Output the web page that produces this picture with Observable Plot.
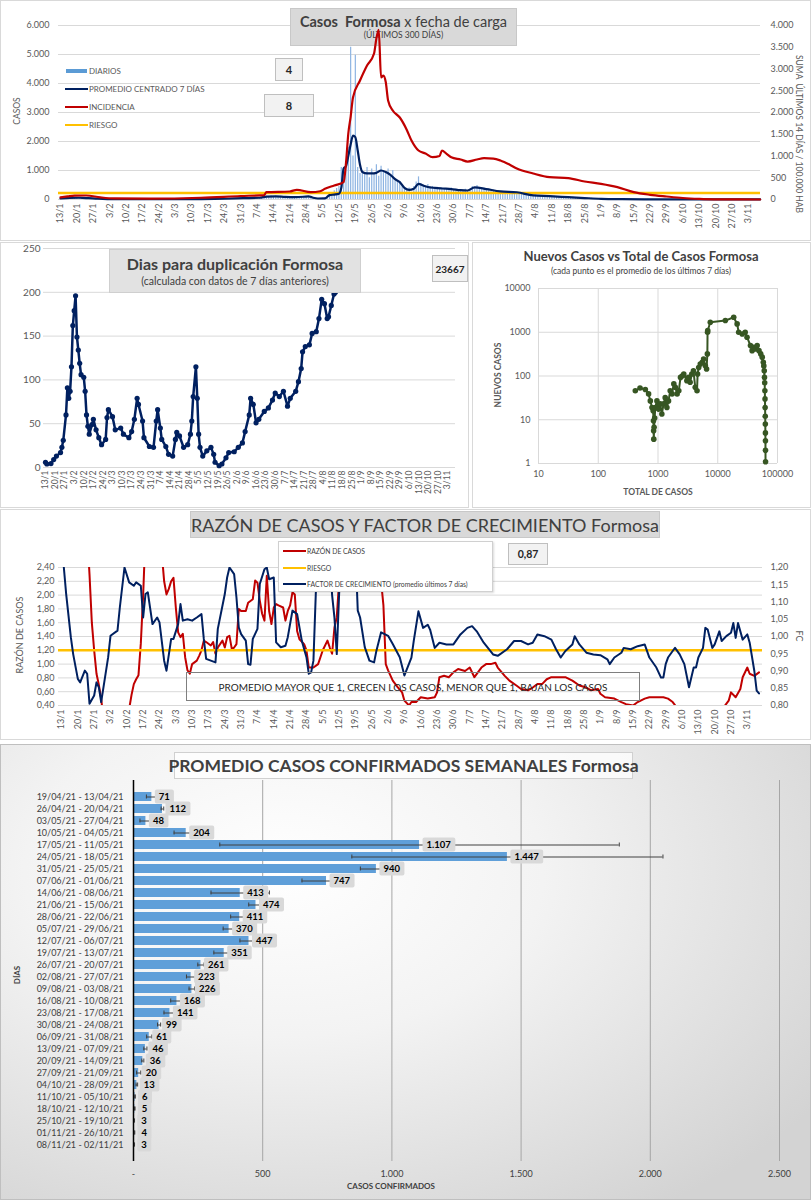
<!DOCTYPE html>
<html lang="es">
<head>
<meta charset="utf-8">
<script src="https://cdn.jsdelivr.net/npm/d3@7"></script>
<script src="https://cdn.jsdelivr.net/npm/@observablehq/plot@0.6"></script>
<style>
  html,body{margin:0;padding:0;background:#fff;}
  body{position:relative;width:811px;height:1200px;overflow:hidden;font-family:Lato,"Open Sans",sans-serif;color:#404040;}
  .panel{position:absolute;background:#fff;outline:1px solid #d9d9d9;outline-offset:-1px;}
  .layer{position:absolute;}
  .layer svg{display:block;overflow:visible;}
  .box{position:absolute;box-sizing:border-box;display:flex;flex-direction:column;align-items:center;justify-content:center;white-space:nowrap;}
  .t{position:absolute;white-space:nowrap;transform:translateY(-50%);line-height:1;}
  .c{position:absolute;white-space:nowrap;transform:translate(-50%,-50%);line-height:1;}
  .rot{position:absolute;white-space:nowrap;transform:translate(-50%,-50%) rotate(-90deg);line-height:1;}
  .rot90{position:absolute;white-space:nowrap;transform:translate(-50%,-50%) rotate(90deg);line-height:1;}
  .sw{position:absolute;}
</style>
</head>
<body>
<script>
// ---------------- DATA ----------------
// Día 0 = 13/1/2021
const fechaInicio = [2021, 0, 13];
const ticksSemana = d3.range(0, 295, 7);

// Panel 1: casos diarios (día 0 .. 299)
const diarios = [
  25,40,35,55,60,50,65,55,70,60,
  50,45,55,40,35,30,25,20,20,15,
  15,12,10,14,8,12,10,9,11,8,
  10,12,8,9,11,10,7,12,9,10,
  11,9,10,13,8,12,10,11,14,12,
  13,10,12,15,11,14,12,16,13,15,
  14,17,15,18,16,20,22,19,25,24,
  26,23,28,30,27,35,38,42,45,48,
  50,55,52,58,62,60,70,85,110,105,
  120,100,115,95,110,90,85,80,95,75,
  80,90,95,100,110,105,70,60,55,40,
  30,35,45,60,120,180,220,300,380,450,
  1100,1000,1200,1800,5250,1500,4970,1100,900,1000,
  850,1100,750,1050,900,1200,800,1150,1000,950,
  1050,850,1000,700,650,600,500,350,300,400,
  250,450,600,780,550,500,450,520,400,450,
  350,420,380,400,350,380,340,400,330,350,
  300,320,280,350,300,330,450,400,480,380,
  350,400,330,350,300,320,280,300,260,280,
  240,260,230,270,220,250,200,220,180,200,
  160,150,140,150,120,130,110,125,100,115,
  95,110,90,100,85,90,80,85,70,75,
  65,70,55,60,50,55,45,40,35,38,
  30,25,28,22,20,18,15,16,12,14,
  10,9,8,10,7,6,8,5,6,5,
  4,5,3,4,3,4,2,3,3,2,
  2,3,2,1,2,2,1,2,1,1,
  1,2,1,1,0,1,1,0,1,1,
  0,1,1,0,1,0,1,1,0,1,
  0,1,0,1,1,0,1,0,0,1
];
// Promedio centrado 7 días
const promDia = [0,4,8,12,16,20,30,40,50,60,70,78,85,88,92,96,100,104,106,108,110,113,115,117,119,120,121,122,123,124,125,126,127,128,129,131,133,135,137,139,141,143,145,147,149,151,153,155,157,160,163,167,171,174,177,182,188,195,202,209,217,224,231,240,250,260,270,280,290,299];
const promValor = [35,55,60,45,25,15,10,10,12,15,25,45,60,100,110,90,80,95,110,60,35,40,150,170,200,400,1070,1150,1500,1900,2200,2150,1700,1200,950,900,900,920,1000,950,850,700,600,400,330,370,540,480,430,400,380,360,320,310,420,360,280,250,140,115,80,50,23,10,5,3,2,1,1,1];
// Incidencia: suma últimos 14 días / 100.000 hab (eje derecho)
const incDia = [0,3,6,11,17,23,38,60,77,87,88,98,101,107,111,113,117,121,122,123,124,125,128,131,134,135,136,137,138,139,140,142,145,148,150,153,156,159,162,163,165,167,171,174,178,181,185,188,192,195,202,209,217,224,231,238,245,252,259,266,273,282,290,299];
const incValor = [50,70,90,92,50,25,20,40,80,100,168,184,223,170,190,245,322,400,830,1517,1900,2345,2736,3080,3356,3700,3900,2805,2850,2700,2276,2046,1885,1600,1356,1126,1057,972,1000,1126,1050,972,920,873,920,950,940,897,800,713,598,513,490,414,360,283,168,108,69,35,16,5,2,0];
const riesgoIncidencia = 150;
const ejeIzqMax = 6000, ejeDerMax = 4000;
const ticksIzq1 = d3.range(0, 6001, 1000);
const ticksDer1 = d3.range(0, 4001, 500);

// Panel 2: días para duplicación
const dupDia = [0,1,4,6,8,11,12,13,15,16,17,18,19,20,21,22,23,24,25,26,28,29,30,31,32,34,35,37,39,41,44,45,46,49,51,55,57,61,63,65,67,68,71,72,76,79,81,82,84,85,88,90,93,95,96,98,101,104,106,107,108,110,111,112,113,115,118,121,123,124,127,129,132,134,138,141,144,146,149,150,152,154,156,160,163,166,168,171,174,177,179,183,185,187,188,190,193,195,198,200,202,204,206,207,209,211,212];
const dupValor = [6,4,4.5,9,13,17,23,31,60,91,79,87,115,162,179,196,149,134,119,106,103,87,60,47,38,49,55,43,34,26,32,57,66,58,43,45,38,34,41,55,79,72,53,34,24,23,53,66,45,32,24,15,13,32,40,36,23,26,38,53,81,115,79,38,23,13,19,23,15,6,2,4,11,17,18,23,28,41,60,79,72,51,55,64,68,77,85,81,87,70,79,87,98,113,132,138,140,153,155,170,192,187,170,172,185,198,200];
const ticksDup = d3.range(0, 251, 50);
const duplicacionActual = "23667";

// Panel 3: nuevos casos vs total
const totalCasos = [417,500,614,696,744,794,830,840,845,850,860,880,900,960,1020,1090,1160,1240,1320,1410,1500,1600,1720,1840,1950,2090,2230,2380,2540,2700,3040,3240,3450,3680,3920,4200,4500,4600,4800,5100,5500,5800,6200,6500,6700,6750,6800,7500,13400,18500,21100,22400,25700,28800,30900,35300,37600,40000,42500,45700,49000,52500,55500,57900,59000,60000,60500,61000,61400,61700,62000,62300,62500,62700,62850,62950,63050];
const nuevosCasos = [46,53,49,39,27,19,16,9.5,5.6,3.6,6.7,11,19,27,17.5,23,13.5,23,32,19,27,46,39,66,55,39,46,93,100,111,78,93,72,111,132,55,46,111,157,188,205,245,172,145,320,1000,1100,1690,1850,2200,1550,1000,910,1000,770,495,380,450,415,495,380,320,270,205,170,132,93,70,46,30,19,12,8,5,3.3,2,1.1];
const ticksLogX = [10,100,1000,10000,100000];
const ticksLogY = [1,10,100,1000,10000];

// Panel 4: razón de casos y factor de crecimiento
const razDia = [0,11,12,13,14,15,16,17,18,28,29,30,31,32,33,34,35,36,42,43,44,45,46,47,48,49,50,51,52,53,54,55,56,58,59,60,61,62,64,65,66,67,69,70,71,72,73,74,75,76,77,79,80,82,83,84,85,86,87,88,89,90,91,92,93,95,96,97,98,99,100,101,102,104,105,106,108,110,112,114,115,116,117,118,119,120,136,137,138,139,140,142,144,146,147,149,150,152,154,157,160,161,162,164,166,168,170,173,175,177,180,182,184,186,187,190,192,195,197,200,202,204,206,208,210,213,216,219,222,225,227,230,231,233,237,240,242,245,247,250,252,255,258,260,262,264,265,282,284,286,287,289,291,292,294,295,297,299];
const razValor = [3.5,2.9,2.3,1.6,1.2,0.86,0.7,0.5,0.2,0.2,0.35,0.55,0.71,0.78,0.84,1.3,2.0,2.9,3.0,2.6,2.2,2.01,2.09,2.2,2.25,1.82,1.46,1.39,1.44,1.10,0.91,0.86,1.0,1.05,1.12,1.2,1.34,1.32,1.27,1.32,1.15,1.24,1.34,1.24,1.39,1.41,1.22,1.24,1.29,1.8,1.77,1.77,1.89,1.94,2.21,2.18,1.92,1.73,1.63,2.28,1.77,1.58,1.82,1.87,1.85,1.82,1.63,1.77,1.85,2.04,2.01,1.48,1.36,1.29,1.2,0.95,0.95,1.0,1.2,1.34,1.24,1.15,1.53,1.68,2.2,3.0,3.0,2.2,1.85,1.0,0.91,0.76,0.67,0.59,0.47,0.4,0.45,0.45,0.52,0.5,0.52,0.59,0.81,0.83,0.81,0.88,0.93,0.9,0.95,0.81,0.95,1.0,1.0,1.02,0.95,0.83,0.76,0.69,0.64,0.62,0.66,0.71,0.71,0.78,0.81,0.81,0.81,0.76,0.69,0.66,0.62,0.64,0.57,0.52,0.5,0.45,0.42,0.4,0.45,0.5,0.52,0.52,0.52,0.5,0.45,0.36,0.2,0.2,0.38,0.47,0.59,0.52,0.64,0.81,0.95,0.86,0.83,0.88];
const fcDia = [0,1,2,4,5,7,8,10,11,12,14,15,16,17,20,21,24,25,27,29,31,32,34,35,36,37,39,41,42,44,45,47,48,50,51,52,54,56,58,60,61,62,64,66,67,70,71,72,74,75,76,77,79,80,81,82,84,85,87,88,89,91,92,94,96,97,99,101,103,105,106,107,108,109,110,115,116,117,118,119,120,126,127,128,130,132,134,135,137,140,142,145,147,150,151,153,155,157,158,160,162,165,168,171,174,176,178,181,185,187,191,194,197,200,202,204,207,210,212,214,216,219,220,222,225,228,231,234,235,237,240,241,244,247,250,252,255,257,258,259,260,262,263,265,267,269,271,272,273,275,276,277,279,280,282,283,285,287,288,289,290,292,294,295,297,298,299];
const fcValor = [1.3,1.2,1.123,0.998,0.949,0.877,0.867,0.901,0.892,0.805,0.829,0.867,0.853,0.81,0.94,1.002,1.017,1.084,1.2,1.157,1.147,1.157,1.147,1.055,1.123,1.128,1.036,1.055,1.041,0.93,0.901,0.993,0.993,1.036,1.094,1.046,1.05,1.046,1.055,1.065,0.993,0.935,0.93,0.925,1.022,1.123,1.171,1.2,1.181,1.113,1.026,1.007,0.988,0.92,0.918,0.993,1.022,1.152,1.195,1.2,1.166,1.171,0.983,0.969,0.973,0.998,1.075,1.065,0.988,0.94,0.892,0.896,0.93,1.123,1.25,1.25,1.12,1.055,0.949,1.123,1.25,1.25,1.075,1.055,0.969,0.93,0.925,0.959,1.012,1.002,0.978,0.94,0.887,0.939,0.987,1.073,1.025,1.034,1.02,0.967,0.982,0.977,0.977,1.006,1.025,1.03,1.015,0.982,0.948,0.944,0.963,0.987,0.987,0.977,0.982,1.006,1.001,0.991,0.963,0.939,0.958,0.977,1.001,0.977,0.953,0.948,0.946,0.934,0.92,0.939,0.953,0.967,0.963,0.972,0.977,0.939,0.91,0.881,0.881,0.92,0.939,0.958,0.967,0.948,0.92,0.853,0.91,0.91,0.939,0.967,1.025,1.02,0.967,0.977,1.015,0.987,1.001,1.011,1.039,0.996,1.039,0.991,1.006,0.982,0.9,0.843,0.835];
const riesgoRazon = 1.2;
const ticksRazon = d3.range(0, 11).map(i => 0.4 + 0.2 * i);
const ticksFC = d3.range(0, 9).map(i => 0.8 + 0.05 * i);
const razonMin = 0.4, razonMax = 2.4, fcMin = 0.8, fcMax = 1.2;
const fcActual = "0,87";

// Panel 5: promedio semanal
const semanas = ["19/04/21 - 13/04/21","26/04/21 - 20/04/21","03/05/21 - 27/04/21","10/05/21 - 04/05/21","17/05/21 - 11/05/21","24/05/21 - 18/05/21","31/05/21 - 25/05/21","07/06/21 - 01/06/21","14/06/21 - 08/06/21","21/06/21 - 15/06/21","28/06/21 - 22/06/21","05/07/21 - 29/06/21","12/07/21 - 06/07/21","19/07/21 - 13/07/21","26/07/21 - 20/07/21","02/08/21 - 27/07/21","09/08/21 - 03/08/21","16/08/21 - 10/08/21","23/08/21 - 17/08/21","30/08/21 - 24/08/21","06/09/21 - 31/08/21","13/09/21 - 07/09/21","20/09/21 - 14/09/21","27/09/21 - 21/09/21","04/10/21 - 28/09/21","11/10/21 - 05/10/21","18/10/21 - 12/10/21","25/10/21 - 19/10/21","01/11/21 - 26/10/21","08/11/21 - 02/11/21"];
const promSemanal = [71,112,48,204,1107,1447,940,747,413,474,411,370,447,351,261,223,226,168,141,99,61,46,36,20,13,6,5,3,4,3];
const errorSemanal = [21,5,23,47,773,602,62,95,113,28,35,23,35,40,12,18,11,24,23,6,10,6,4,8,3,1,1,1,1,1];
const ticksSemanal = [0,500,1000,1500,2000,2500];

// ---------------- HELPERS ----------------
const loc = d3.formatLocale({decimal: ",", thousands: ".", grouping: [3], currency: ["$", ""]});
const fmtMiles = loc.format(",d");
const fmt2 = loc.format(".2f");
const inicio = new Date(Date.UTC(...fechaInicio));
const fmtDia = d => { const t = d3.utcDay.offset(inicio, d); return `${t.getUTCDate()}/${t.getUTCMonth() + 1}`; };
const zip = (a, b, ka, kb) => a.map((v, i) => ({[ka]: v, [kb]: b[i]}));

const diariosData = diarios.map((v, i) => ({dia: i, v}));
const promedio = zip(promDia, promValor, "dia", "v");
const incidencia = zip(incDia, incValor, "dia", "v");
const duplicacion = zip(dupDia, dupValor, "dia", "v");
const dispersion = zip(totalCasos, nuevosCasos, "total", "nuevos");
const razon = zip(razDia, razValor, "dia", "v");
const factor = zip(fcDia, fcValor, "dia", "v");
const semanal = semanas.map((s, i) => ({sem: s, v: promSemanal[i], e: errorSemanal[i]}));

const factorEjes = ejeIzqMax / ejeDerMax;                         // eje secundario panel 1
const fcAEscala = fc => razonMin + (fc - fcMin) * (razonMax - razonMin) / (fcMax - fcMin); // eje secundario panel 4

const body = document.body;
function html(str) { const t = document.createElement("template"); t.innerHTML = str.trim(); const e = t.content.firstChild; body.appendChild(e); return e; }
function layer(svg, left, top) { const d = document.createElement("div"); d.className = "layer"; d.style.left = left + "px"; d.style.top = top + "px"; d.appendChild(svg); body.appendChild(d); return svg; }
const baseStyle = {background: "transparent", fontFamily: "Lato, sans-serif", fontSize: "9px", color: "#595959", overflow: "visible"};

// ---------------- PANELS ----------------
html(`<div class="panel" style="left:0;top:0;width:811px;height:241px"></div>`);
html(`<div class="panel" style="left:0;top:242px;width:469px;height:266px"></div>`);
html(`<div class="panel" style="left:472px;top:242px;width:339px;height:266px"></div>`);
html(`<div class="panel" style="left:0;top:509px;width:811px;height:231px"></div>`);
html(`<div class="panel" style="left:0;top:744px;width:811px;height:456px;outline-color:#bfbfbf;background:radial-gradient(ellipse 80% 90% at 35% 28%, #ffffff 0%, #f3f3f3 40%, #d3d3d3 100%)"></div>`);

// ===== Panel 1 =====
const p1 = {width: 811, height: 240, marginTop: 25, marginBottom: 41, marginLeft: 58, marginRight: 51, style: baseStyle};
const x1 = {type: "linear", domain: [-0.85, 299.15]};
const y1 = {domain: [0, ejeIzqMax]};
layer(Plot.plot({...p1, x: x1, y: y1, marks: [
  Plot.gridY(ticksIzq1, {stroke: "#d9d9d9", strokeOpacity: 1}),
  Plot.axisY(ticksIzq1, {anchor: "left", tickSize: 0, tickPadding: 9, tickFormat: fmtMiles, label: null}),
  Plot.axisY(ticksDer1.map(v => v * factorEjes), {anchor: "right", tickSize: 0, tickPadding: 10, tickFormat: v => fmtMiles(Math.round(v / factorEjes)), label: null}),
  Plot.axisX(ticksSemana, {anchor: "bottom", tickSize: 0, tickPadding: 4, tickRotate: -90, tickFormat: fmtDia, label: null})
]}), 0, 0);
html(`<div class="box" style="left:290px;top:8px;width:227px;height:38px;background:#d9d9d9;border:1px solid #c8c8c8;color:#404040">
  <div style="font-size:14.5px;line-height:17px"><b>Casos&nbsp; Formosa</b> x fecha de carga</div>
  <div style="font-size:8.5px;line-height:11px">(ÚLTIMOS 300 DÍAS)</div></div>`);
layer(Plot.plot({...p1, x: {...x1, axis: null}, y: {...y1, axis: null}, marks: [
  Plot.ruleX(diariosData, {x: "dia", y1: 0, y2: "v", stroke: "#8db4e2", strokeWidth: 1.2}),
  Plot.ruleY([riesgoIncidencia * factorEjes], {stroke: "#ffc000", strokeWidth: 2.5}),
  Plot.line(promedio, {x: "dia", y: "v", stroke: "#002060", strokeWidth: 2.2, curve: "monotone-x"}),
  Plot.line(incidencia, {x: "dia", y: d => d.v * factorEjes, stroke: "#c00000", strokeWidth: 2.2, curve: "monotone-x"})
]}), 0, 0);
html(`<div class="rot" style="left:17px;top:111px;font-size:8.5px;color:#595959">CASOS</div>`);
html(`<div class="rot90" style="left:799px;top:134px;font-size:8.5px;color:#595959">SUMA&nbsp; ÚLTIMOS 14 DÍAS / 100.000 HAB</div>`);
html(`<div class="sw" style="left:66px;top:69px;width:21px;height:4px;background:#5b9bd5"></div>`);
html(`<div class="sw" style="left:65px;top:88px;width:23px;height:2px;background:#002060"></div>`);
html(`<div class="sw" style="left:65px;top:106px;width:23px;height:2px;background:#c00000"></div>`);
html(`<div class="sw" style="left:65px;top:124px;width:23px;height:2px;background:#ffc000"></div>`);
html(`<div class="t" style="left:89px;top:71px;font-size:8px;color:#595959">DIARIOS</div>`);
html(`<div class="t" style="left:89px;top:89px;font-size:8px;color:#595959">PROMEDIO CENTRADO 7 DÍAS</div>`);
html(`<div class="t" style="left:89px;top:107px;font-size:8px;color:#595959">INCIDENCIA</div>`);
html(`<div class="t" style="left:89px;top:125px;font-size:8px;color:#595959">RIESGO</div>`);
html(`<div class="box" style="left:275px;top:58px;width:28px;height:23px;background:#f2f2f2;border:1px solid #bfbfbf;font-size:11px;font-weight:bold;color:#262626">4</div>`);
html(`<div class="box" style="left:264px;top:94px;width:50px;height:23px;background:#f2f2f2;border:1px solid #bfbfbf;font-size:11px;font-weight:bold;color:#262626">8</div>`);

// ===== Panel 2 =====
layer(Plot.plot({width: 469, height: 265, marginTop: 6, marginBottom: 40, marginLeft: 43, marginRight: 14,
  style: {...baseStyle, fontSize: "8.5px"},
  x: {type: "linear", domain: [-1.46, 299.85]}, y: {domain: [0, 250]},
  marks: [
    Plot.gridY(ticksDup, {stroke: "#d9d9d9", strokeOpacity: 1}),
    Plot.axisY(ticksDup, {tickSize: 0, tickPadding: 3, label: null, fontSize: 10}),
    Plot.axisX(ticksSemana, {tickSize: 0, tickPadding: 3, tickRotate: -90, tickFormat: fmtDia, label: null}),
    Plot.line(duplicacion, {x: "dia", y: "v", stroke: "#002060", strokeWidth: 2.5}),
    Plot.dot(duplicacion, {x: "dia", y: "v", r: 2.6, fill: "#002060"})
  ]}), 0, 242);
html(`<div class="box" style="left:109px;top:249px;width:252px;height:44px;background:#e2e2e2;border:1px solid #cfcfcf;color:#404040">
  <div style="font-size:16px;font-weight:bold;line-height:20px">Dias para duplicación Formosa</div>
  <div style="font-size:10.5px;line-height:14px">(calculada con datos de 7 días anteriores)</div></div>`);
html(`<div class="box" style="left:432px;top:255px;width:36px;height:27px;background:#f2f2f2;border:1px solid #bfbfbf;font-size:10px;font-weight:bold;color:#262626">${duplicacionActual}</div>`);

// ===== Panel 3 =====
layer(Plot.plot({width: 339, height: 265, marginTop: 46, marginBottom: 44, marginLeft: 66, marginRight: 34,
  style: {...baseStyle, fontSize: "9px"},
  x: {type: "log", domain: [10, 100000]}, y: {type: "log", domain: [1, 10000]},
  marks: [
    Plot.gridX(ticksLogX, {stroke: "#d9d9d9", strokeOpacity: 1}),
    Plot.gridY(ticksLogY, {stroke: "#d9d9d9", strokeOpacity: 1}),
    Plot.axisX(ticksLogX, {tickSize: 0, tickPadding: 7, tickFormat: d => String(d), label: null}),
    Plot.axisY(ticksLogY, {tickSize: 0, tickPadding: 8, tickFormat: d => String(d), label: null}),
    Plot.line(dispersion, {x: "total", y: "nuevos", stroke: "#375623", strokeWidth: 2}),
    Plot.dot(dispersion, {x: "total", y: "nuevos", r: 2.8, fill: "#375623"})
  ]}), 472, 242);
html(`<div class="c" style="left:641px;top:256px;font-size:13px;font-weight:bold;color:#404040">Nuevos Casos vs Total de Casos Formosa</div>`);
html(`<div class="c" style="left:641px;top:271px;font-size:8.5px;color:#404040">(cada punto es el promedio de los últimos 7 días)</div>`);
html(`<div class="rot" style="left:498px;top:375px;font-size:8.5px;font-weight:bold;color:#595959">NUEVOS CASOS</div>`);
html(`<div class="c" style="left:658px;top:492px;font-size:8.5px;font-weight:bold;color:#595959">TOTAL DE CASOS</div>`);

// ===== Panel 4 =====
const p4 = {width: 811, height: 231, marginTop: 58, marginBottom: 35, marginLeft: 58, marginRight: 49, style: baseStyle};
const x4 = {type: "linear", domain: [-1.29, 300.5]};
const y4 = {domain: [razonMin, razonMax]};
layer(Plot.plot({...p4, x: x4, y: y4, marks: [
  Plot.gridY(ticksRazon, {stroke: "#d9d9d9", strokeOpacity: 1}),
  Plot.axisY(ticksRazon, {anchor: "left", tickSize: 0, tickPadding: 4, tickFormat: fmt2, label: null}),
  Plot.axisY(ticksFC.map(fcAEscala), {anchor: "right", tickSize: 0, tickPadding: 8, tickFormat: v => fmt2(fcMin + (v - razonMin) * (fcMax - fcMin) / (razonMax - razonMin)), label: null}),
  Plot.axisX(ticksSemana, {anchor: "bottom", tickSize: 0, tickPadding: 4, tickRotate: -90, tickFormat: fmtDia, label: null}),
  Plot.line(razon, {x: "dia", y: "v", stroke: "#c00000", strokeWidth: 2, clip: true}),
  Plot.ruleY([riesgoRazon], {stroke: "#ffc000", strokeWidth: 2.5}),
  Plot.line(factor, {x: "dia", y: d => fcAEscala(d.v), stroke: "#002060", strokeWidth: 2, clip: true})
]}), 0, 509);
html(`<div class="box" style="left:190px;top:511px;width:470px;height:27px;background:#d9d9d9;border:1px solid #c8c8c8;font-size:18px;color:#404040">RAZÓN DE CASOS Y FACTOR DE CRECIMIENTO Formosa</div>`);
html(`<div class="box" style="left:278px;top:541px;width:215px;height:51px;background:#fff;border:1px solid #d0d0d0;box-shadow:1px 1px 2px rgba(0,0,0,0.15)"></div>`);
html(`<div class="sw" style="left:283px;top:550px;width:23px;height:2px;background:#c00000"></div>`);
html(`<div class="sw" style="left:283px;top:567px;width:23px;height:2px;background:#ffc000"></div>`);
html(`<div class="sw" style="left:283px;top:583px;width:23px;height:2px;background:#002060"></div>`);
html(`<div class="t" style="left:307px;top:551px;font-size:6.8px;color:#404040">RAZÓN DE CASOS</div>`);
html(`<div class="t" style="left:307px;top:568px;font-size:6.8px;color:#404040">RIESGO</div>`);
html(`<div class="t" style="left:307px;top:584px;font-size:6.8px;color:#404040">FACTOR DE CRECIMIENTO (promedio últimos 7 días)</div>`);
html(`<div class="box" style="left:508px;top:543px;width:40px;height:22px;background:#f2f2f2;border:1px solid #bfbfbf;font-size:10.5px;font-weight:bold;color:#262626">${fcActual}</div>`);
html(`<div class="box" style="left:186px;top:672px;width:454px;height:29px;border:1px solid #7f7f7f;font-size:10px;color:#262626">PROMEDIO MAYOR QUE 1, CRECEN LOS CASOS, MENOR QUE 1, BAJAN LOS CASOS</div>`);
html(`<div class="rot" style="left:19px;top:635px;font-size:9px;color:#595959">RAZÓN DE CASOS</div>`);
html(`<div class="rot90" style="left:799px;top:636px;font-size:9px;color:#595959">FC</div>`);

// ===== Panel 5 =====
const svg5 = layer(Plot.plot({width: 811, height: 456, marginTop: 36, marginBottom: 39, marginLeft: 133, marginRight: 32,
  style: {...baseStyle, fontSize: "9px", color: "#404040"},
  x: {domain: [0, 2500]}, y: {domain: semanas, padding: 0.28},
  marks: [
    Plot.gridX(ticksSemanal.slice(1), {stroke: "#a6a6a6", strokeOpacity: 1}),
    Plot.barX(semanal, {x: "v", y: "sem", fill: "#5f9fd9"}),
    Plot.ruleY(semanal, {x1: d => d.v - d.e, x2: d => d.v + d.e, y: "sem", stroke: "#404040", strokeWidth: 1}),
    Plot.tickX(semanal, {x: d => d.v - d.e, y: "sem", stroke: "#404040", insetTop: 2.5, insetBottom: 2.5}),
    Plot.tickX(semanal, {x: d => d.v + d.e, y: "sem", stroke: "#404040", insetTop: 2.5, insetBottom: 2.5}),
    Plot.text(semanal, {x: "v", y: "sem", text: d => fmtMiles(d.v), dx: 7, textAnchor: "start", fontWeight: "bold", fontSize: 9.5, fill: "#000", ariaLabel: "etiqueta"}),
    Plot.ruleX([0], {stroke: "#000", strokeWidth: 1.5}),
    Plot.axisY({anchor: "left", tickSize: 0, tickPadding: 10, label: null}),
    Plot.axisX(ticksSemanal, {anchor: "bottom", tickSize: 0, tickPadding: 9, tickFormat: d => d === 0 ? "-" : fmtMiles(d), label: null})
  ]}), 0, 744);
// cajas grises detrás de las etiquetas de valor
{
  const etiquetas = new Set(semanal.map(d => fmtMiles(d.v)));
  const textos = Array.from(svg5.querySelectorAll("text")).filter(t => {
    const g = t.closest("g");
    const bold = g && (g.getAttribute("font-weight") === "bold" || g.getAttribute("aria-label") === "etiqueta");
    return bold && etiquetas.has(t.textContent);
  });
  const NS = "http://www.w3.org/2000/svg";
  textos.forEach(t => {
    let b;
    try { b = t.getBBox(); } catch (e) { return; }
    const r = document.createElementNS(NS, "rect");
    r.setAttribute("x", b.x - 4); r.setAttribute("y", b.y - 1.5);
    r.setAttribute("width", b.width + 8); r.setAttribute("height", b.height + 3);
    r.setAttribute("rx", 2); r.setAttribute("fill", "#d9d9d9");
    ["transform", "dx", "dy"].forEach(a => { const v = t.getAttribute(a); if (v && a === "transform") r.setAttribute(a, v); });
    t.parentNode.insertBefore(r, t);
  });
}
html(`<div class="box" style="left:174px;top:752px;width:459px;height:27px;background:rgba(255,255,255,0.75);border:1px solid #d0d0d0;font-size:17.5px;font-weight:bold;color:#404040">PROMEDIO CASOS CONFIRMADOS SEMANALES Formosa</div>`);
html(`<div class="rot" style="left:17px;top:975px;font-size:8px;font-weight:bold;color:#404040">DÍAS</div>`);
html(`<div class="c" style="left:391px;top:1186px;font-size:8px;font-weight:bold;color:#404040">CASOS CONFIRMADOS</div>`);
</script>
</body>
</html>
